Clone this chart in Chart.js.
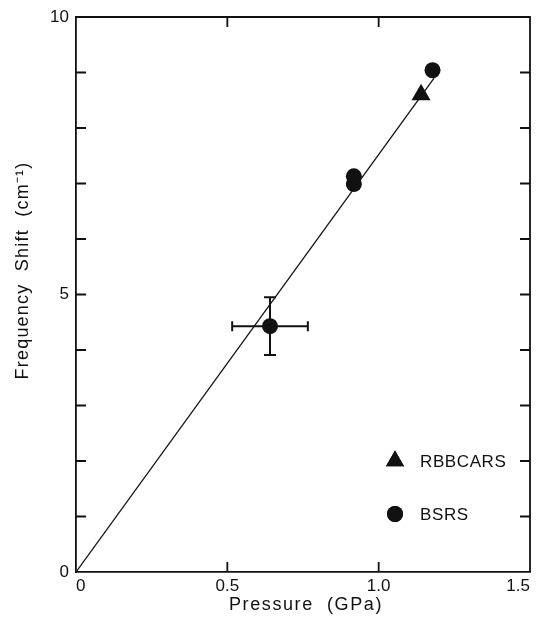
<!DOCTYPE html>
<html><head><meta charset="utf-8">
<script src="https://cdn.jsdelivr.net/npm/chart.js@4.4.1/dist/chart.umd.min.js"></script>
<style>html,body{margin:0;padding:0;background:#fff}#wrap{width:541px;height:626px}</style>
</head><body><div id="wrap"><canvas id="c" width="541" height="626"></canvas></div>
<script>
// ---- data ----
const xTickValues = [0, 0.5, 1.0, 1.5];
const xTickLabels = ['0', '0.5', '1.0', '1.5'];
const xMinorTicks = [0.5, 1.0];
const yTickValues = [0,1,2,3,4,5,6,7,8,9,10];
const yLabelled = {0:'0', 5:'5', 10:'10'};
const bsrsX = [0.641, 0.918, 0.918, 1.178];
const bsrsY = [4.43, 7.13, 6.99, 9.04];
const bsrsErrX = [0.125, 0, 0, 0];
const bsrsErrY = [0.52, 0, 0, 0];
const rbbcarsX = [1.14];
const rbbcarsY = [8.60];
const fitX = [0, 1.183];
const fitY = [0, 8.9];
const seriesNames = ['RBBCARS', 'BSRS'];
const xTitle = 'Pressure  (GPa)';
const yTitle = 'Frequency  Shift  (cm\u207B\u00B9)';

const INK = '#111';
const FONT = '"Liberation Sans", Arial, sans-serif';

const toPts = (xs, ys) => xs.map((x, i) => ({x, y: ys[i]}));

const decor = {
  id: 'decor',
  beforeDatasetsDraw(chart) {
    const {ctx, chartArea: a, scales: {x, y}} = chart;
    ctx.save();
    ctx.strokeStyle = INK;
    ctx.lineWidth = 1.8;
    // frame top & right
    ctx.beginPath();
    ctx.moveTo(a.left, a.top); ctx.lineTo(a.right, a.top); ctx.lineTo(a.right, a.bottom);
    ctx.stroke();
    // inward ticks
    const L = 10;
    ctx.beginPath();
    yTickValues.forEach(v => {
      if (v === 0 || v === 10) return;
      const py = y.getPixelForValue(v);
      ctx.moveTo(a.left, py); ctx.lineTo(a.left + L, py);
      ctx.moveTo(a.right, py); ctx.lineTo(a.right - L, py);
    });
    xMinorTicks.forEach(v => {
      const px = x.getPixelForValue(v);
      ctx.moveTo(px, a.bottom); ctx.lineTo(px, a.bottom - L);
      ctx.moveTo(px, a.top); ctx.lineTo(px, a.top + L);
    });
    ctx.stroke();
    // error bars
    ctx.lineWidth = 2;
    bsrsX.forEach((xv, i) => {
      const ex = bsrsErrX[i], ey = bsrsErrY[i];
      const cx = x.getPixelForValue(xv), cy = y.getPixelForValue(bsrsY[i]);
      ctx.beginPath();
      if (ex) {
        const x0 = x.getPixelForValue(xv - ex), x1 = x.getPixelForValue(xv + ex);
        ctx.moveTo(x0, cy); ctx.lineTo(x1, cy);
        ctx.moveTo(x0, cy - 5); ctx.lineTo(x0, cy + 5);
        ctx.moveTo(x1, cy - 5); ctx.lineTo(x1, cy + 5);
      }
      if (ey) {
        const y0 = y.getPixelForValue(bsrsY[i] - ey), y1 = y.getPixelForValue(bsrsY[i] + ey);
        ctx.moveTo(cx, y0); ctx.lineTo(cx, y1);
        ctx.moveTo(cx - 6, y0); ctx.lineTo(cx + 6, y0);
        ctx.moveTo(cx - 6, y1); ctx.lineTo(cx + 6, y1);
      }
      ctx.stroke();
    });
    ctx.restore();
  },
  afterDraw(chart) {
    const {ctx, chartArea: a} = chart;
    ctx.save();
    ctx.fillStyle = INK;
    ctx.font = '18px ' + FONT;
    ctx.textAlign = 'center';
    ctx.textBaseline = 'middle';
    // x title
    ctx.letterSpacing = '1.6px';
    ctx.fillText(xTitle, (a.left + a.right) / 2 + 3, a.bottom + 33);
    // y title
    ctx.letterSpacing = '1.2px';
    ctx.save();
    ctx.translate(23, (a.top + a.bottom) / 2 - 24);
    ctx.rotate(-Math.PI / 2);
    ctx.fillText(yTitle, 0, 0);
    ctx.restore();
    // legend
    const lx = a.right - 135, tx = a.right - 110;
    const rows = [{y: a.bottom - 111, style: 'triangle', r: 10.5}, {y: a.bottom - 58, style: 'circle', r: 8}];
    ctx.textAlign = 'left';
    ctx.font = '17px ' + FONT;
    ctx.letterSpacing = '0.6px';
    rows.forEach((row, i) => {
      Chart.helpers.drawPoint(ctx, {pointStyle: row.style, radius: row.r, rotation: 0, borderWidth: 0}, lx, row.y);
      ctx.fill();
      ctx.fillText(seriesNames[i], tx, row.y + 1);
    });
    ctx.restore();
    ctx.letterSpacing = '0px';
  }
};

new Chart(document.getElementById('c'), {
  type: 'scatter',
  data: {
    datasets: [
      {label: 'fit', data: toPts(fitX, fitY), showLine: true, borderColor: INK, borderWidth: 1.3, pointRadius: 0, fill: false},
      {label: seriesNames[1], data: toPts(bsrsX, bsrsY), pointStyle: 'circle', pointRadius: 8, backgroundColor: INK, borderColor: INK, borderWidth: 0},
      {label: seriesNames[0], data: toPts(rbbcarsX, rbbcarsY), pointStyle: 'triangle', pointRadius: 11, backgroundColor: INK, borderColor: INK, borderWidth: 0}
    ]
  },
  options: {
    responsive: false,
    animation: false,
    layout: {padding: {top: 17, right: 9, left: 0, bottom: 0}},
    plugins: {legend: {display: false}, tooltip: {enabled: false}},
    scales: {
      x: {
        type: 'linear', min: 0, max: 1.5,
        afterBuildTicks: s => { s.ticks = xTickValues.map(v => ({value: v})); },
        afterFit: s => { s.height = 54; s.paddingLeft = 0; s.paddingRight = 0; },
        grid: {display: false, drawTicks: false, tickLength: 0},
        border: {display: true, color: INK, width: 1.8},
        ticks: {color: INK, font: {family: FONT, size: 17}, padding: 4, maxRotation: 0, align: 'inner',
          callback: (v) => { const i = xTickValues.indexOf(v); return i >= 0 ? xTickLabels[i] : ''; }}
      },
      y: {
        type: 'linear', min: 0, max: 10,
        afterBuildTicks: s => { s.ticks = yTickValues.map(v => ({value: v})); },
        afterFit: s => { s.width = 76; s.paddingTop = 0; s.paddingBottom = 0; },
        grid: {display: false, drawTicks: false, tickLength: 0},
        border: {display: true, color: INK, width: 1.8},
        ticks: {color: INK, font: {family: FONT, size: 17}, padding: 7, autoSkip: false,
          callback: (v) => yLabelled[v] !== undefined ? yLabelled[v] : ''}
      }
    }
  },
  plugins: [decor]
});
</script>
</body></html>
